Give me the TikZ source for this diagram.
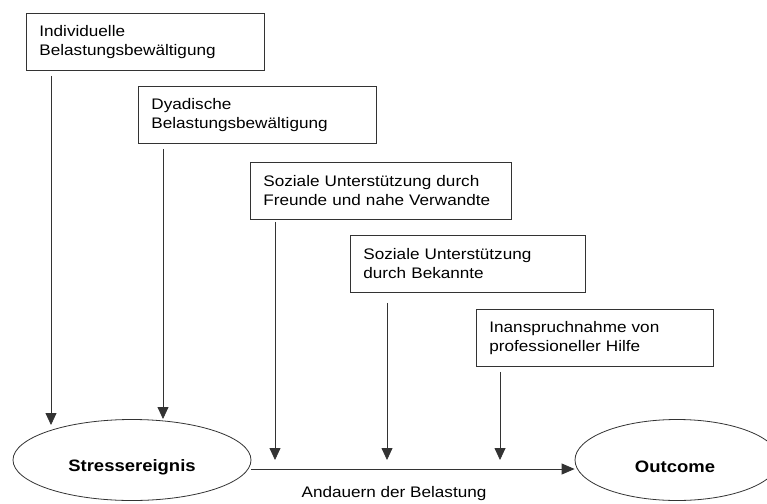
\documentclass[tikz,border=0pt]{standalone}
\usepackage{fontspec}
\setmainfont[FakeStretch=1.12]{Liberation Sans}
\usetikzlibrary{arrows.meta,shapes.geometric}

\begin{document}
\begin{tikzpicture}[x=1pt,y=-1pt,
  kasten/.style={draw=black!80,line width=0.8pt,anchor=north west,align=left,
    inner xsep=13pt,minimum height=57pt,font=\fontsize{15.3}{19}\selectfont},
  oval/.style={draw=black!80,line width=0.8pt,ellipse,minimum height=81pt,inner sep=0pt},
  fett/.style={font=\fontsize{16.5}{19}\selectfont\bfseries},
  pfeil/.style={draw=black!80,line width=0.8pt,-{Triangle[length=12pt,width=11pt]}}]
\useasboundingbox (0,0) rectangle (767,503);
\node[kasten,text width=212pt] (ind) at (26,13) {Individuelle\\Belastungsbewältigung};
\node[kasten,text width=212pt] (dyad) at (138,86) {Dyadische\\Belastungsbewältigung};
\node[kasten,text width=235pt] (freunde) at (250,162) {Soziale Unterstützung durch\\Freunde und nahe Verwandte};
\node[kasten,text width=209pt] (bekannte) at (350,235) {Soziale Unterstützung\\durch Bekannte};
\node[kasten,text width=211pt] (hilfe) at (476,309) {Inanspruchnahme von\\professioneller Hilfe};
\node[oval,minimum width=238pt] (stress) at (132,460) {};
\node[oval,minimum width=204pt] (outcome) at (677,460) {};
\node[fett] (stresstext) at ([yshift=-7pt]stress.center) {Stressereignis};
\node[fett] (outtext) at ([yshift=-7pt,xshift=-2pt]outcome.center) {Outcome};
\coordinate (z1) at (51,425);
\coordinate (z2) at (163,419);
\coordinate (z3) at (275,460);
\coordinate (z4) at (387,460);
\coordinate (z5) at (500,460);
\draw[pfeil] ([xshift=25pt,yshift=-5pt]ind.south west) -- (z1);
\draw[pfeil] ([xshift=25pt,yshift=-5pt]dyad.south west) -- (z2);
\draw[pfeil] ([xshift=25pt,yshift=-2pt]freunde.south west) -- (z3);
\draw[pfeil] ([xshift=37pt,yshift=-10pt]bekannte.south west) -- (z4);
\draw[pfeil] ([xshift=24pt,yshift=-5pt]hilfe.south west) -- (z5);
\draw[pfeil,-{Triangle[length=13pt,width=11pt]}] ([yshift=-9pt]stress.east) -- ([yshift=-9pt]outcome.west);
\node[font=\fontsize{15.3}{19}\selectfont] (dauer) at (394,494) {Andauern der Belastung};
\end{tikzpicture}
\end{document}
